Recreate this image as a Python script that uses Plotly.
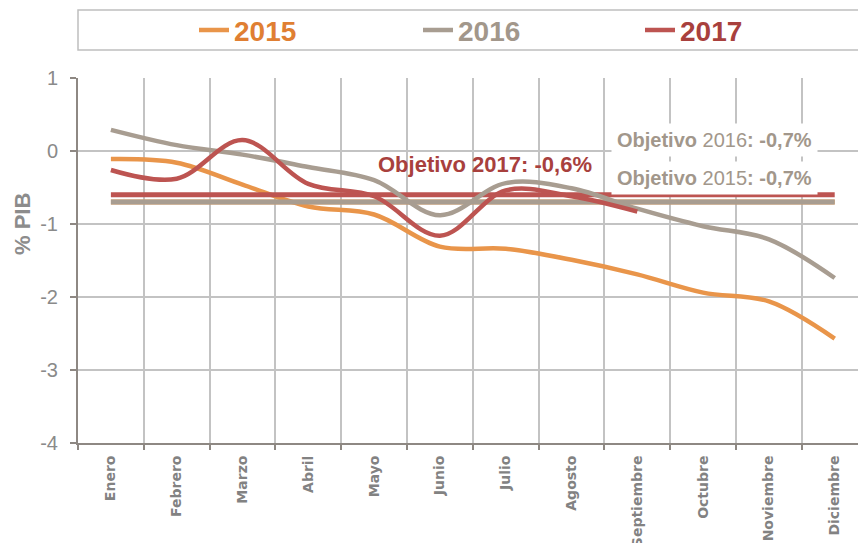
import plotly.graph_objects as go

meses = ['Enero', 'Febrero', 'Marzo', 'Abril', 'Mayo', 'Junio', 'Julio',
         'Agosto', 'Septiembre', 'Octubre', 'Noviembre', 'Diciembre']

deficit_2015 = [-0.11, -0.16, -0.46, -0.76, -0.87, -1.31, -1.34, -1.49, -1.69, -1.94, -2.06, -2.57]
deficit_2016 = [0.29, 0.08, -0.05, -0.22, -0.40, -0.88, -0.44, -0.51, -0.79, -1.03, -1.21, -1.74]
deficit_2017 = [-0.26, -0.38, 0.15, -0.45, -0.62, -1.16, -0.54, -0.62, -0.83]

objetivo_2015 = -0.7
objetivo_2016 = -0.7
objetivo_2017 = -0.6

y_ticks = [1, 0, -1, -2, -3, -4]
y_ticklabels = ['1', '0', '-1', '-2', '-3', '-4']

naranja = '#E9954A'
gris = '#A89D91'
rojo = '#BD5451'
txt_naranja = '#E07F33'
txt_gris = '#A2978B'
txt_rojo = '#A8403D'
x = list(range(len(meses)))

fig = go.Figure()

fig.add_trace(go.Scatter(
    x=x, y=deficit_2015,
    name="<span style='color:%s'><b>2015</b></span>" % txt_naranja,
    mode='lines', legend='legend',
    line=dict(color=naranja, width=4.5, shape='spline', smoothing=1)
))

fig.add_trace(go.Scatter(
    x=x, y=[objetivo_2015] * len(meses),
    mode='lines', showlegend=False,
    line=dict(color=naranja, width=5)
))
fig.add_trace(go.Scatter(
    x=x, y=[objetivo_2016] * len(meses),
    mode='lines', showlegend=False,
    line=dict(color=gris, width=5)
))
fig.add_trace(go.Scatter(
    x=x, y=[objetivo_2017] * len(meses),
    mode='lines', showlegend=False,
    line=dict(color=rojo, width=5)
))

fig.add_trace(go.Scatter(
    x=x, y=deficit_2016,
    name="<span style='color:%s'><b>2016</b></span>" % txt_gris,
    mode='lines', legend='legend2',
    line=dict(color=gris, width=4.5, shape='spline', smoothing=1)
))
fig.add_trace(go.Scatter(
    x=x[:len(deficit_2017)], y=deficit_2017,
    name="<span style='color:%s'><b>2017</b></span>" % txt_rojo,
    mode='lines', legend='legend3',
    line=dict(color=rojo, width=4.5, shape='spline', smoothing=1)
))

# etiquetas de objetivos
fig.add_annotation(x=5.68, y=-0.19, xref='x', yref='y', showarrow=False,
                   text='<b>Objetivo 2017: -0,6%</b>',
                   font=dict(size=22, color=txt_rojo))
fig.add_annotation(x=9.17, y=0.15, xref='x', yref='y', showarrow=False,
                   text='<b>Objetivo </b>2016<b>: -0,7%</b>',
                   font=dict(size=20, color=txt_gris),
                   bgcolor='white', borderpad=5)
fig.add_annotation(x=9.17, y=-0.37, xref='x', yref='y', showarrow=False,
                   text='<b>Objetivo </b>2015<b>: -0,7%</b>',
                   font=dict(size=20, color=txt_gris),
                   bgcolor='white', borderpad=5)

# titulo eje y
fig.add_annotation(x=(22 - 78) / 780, y=0.6, xref='paper', yref='paper', showarrow=False,
                   xanchor='center', yanchor='middle',
                   text='<b>% PIB</b>', textangle=-90,
                   font=dict(size=22, color='#8C8C8C'))

# caja de la leyenda
fig.add_shape(type='rect', xref='paper', yref='paper',
              x0=0, x1=1.1, y0=1.0767, y1=1.186,
              line=dict(color='#BFBFBF', width=1.5), fillcolor='rgba(0,0,0,0)')

leg = dict(orientation='h', xanchor='left', y=1.131, yanchor='middle',
           font=dict(size=28), bgcolor='rgba(0,0,0,0)', borderwidth=0)

fig.update_layout(
    width=858, height=543,
    margin=dict(l=78, r=0, t=78, b=100),
    paper_bgcolor='white', plot_bgcolor='white',
    font=dict(family='Liberation Sans, Arial, sans-serif', color='#8C8C8C'),
    showlegend=True,
    legend=dict(leg, x=(194 - 78) / 780),
    legend2=dict(leg, x=(418 - 78) / 780),
    legend3=dict(leg, x=(640 - 78) / 780),
    xaxis=dict(
        range=[-0.5, 11.354], automargin=False,
        tickmode='array', tickvals=x, ticktext=meses,
        tickangle=-90, ticks='', showgrid=False, zeroline=False,
        tickfont=dict(family='DejaVu Sans', size=14, color='#828282', weight='bold'),
        ticklabelstandoff=5,
        showline=True, linecolor='#8E8883', linewidth=2,
        minor=dict(tickmode='linear', tick0=-0.5, dtick=1, showgrid=True,
                   gridcolor='#C3C3C3', gridwidth=1.5, ticks='outside',
                   ticklen=5, tickcolor='#8E8883', tickwidth=1.5)
    ),
    yaxis=dict(
        range=[-4, 1], automargin=False,
        tickmode='array', tickvals=y_ticks, ticktext=y_ticklabels,
        showgrid=True, gridcolor='#C3C3C3', gridwidth=1.5, zeroline=False,
        ticks='outside', ticklen=6, tickcolor='#8E8883', tickwidth=1.5,
        showline=True, linecolor='#8E8883', linewidth=2,
        tickfont=dict(size=20, color='#8A8A8A'), ticklabelstandoff=8
    )
)

fig.write_html('out.html', config={'displayModeBar': False},
               post_script="document.body.style.margin='0';")
